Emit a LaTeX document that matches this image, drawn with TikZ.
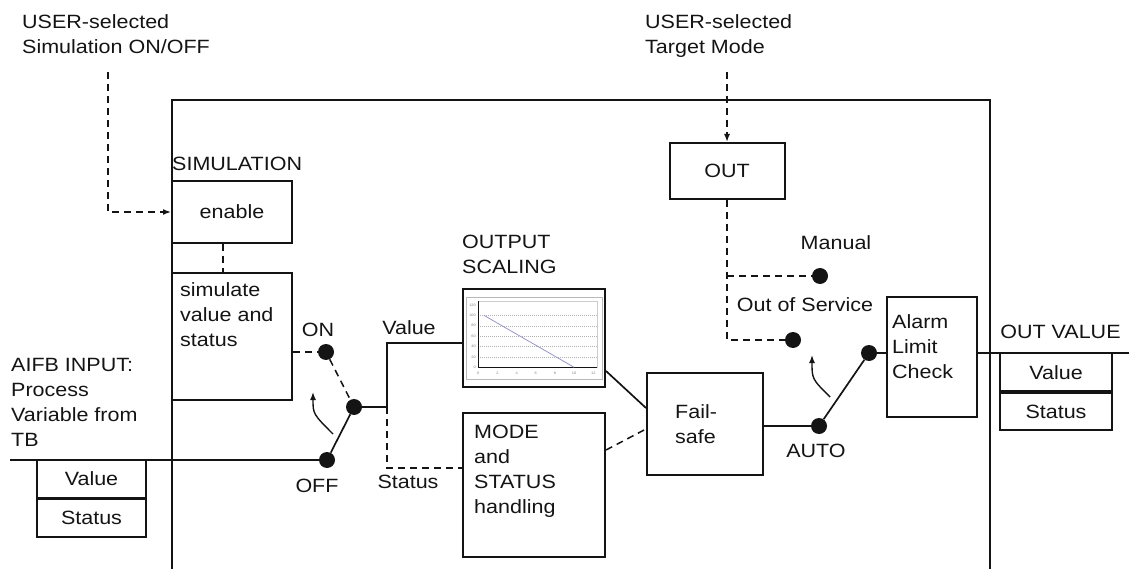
\documentclass[tikz,border=0pt]{standalone}
\usepackage{fontspec}
\setmainfont{Liberation Sans}[FakeStretch=1.12]
\usetikzlibrary{arrows.meta,positioning,calc}
\definecolor{ink}{RGB}{20,20,20}
\begin{document}
\begin{tikzpicture}[x=1pt, y=-1pt,
        >=Latex, font=\fontsize{19.2}{25}\selectfont, color=ink,
        blk/.style={draw, line width=2pt, inner sep=0pt},
        cell/.style={draw, line width=1.8pt, minimum width=109pt, minimum height=37.5pt, inner sep=0pt},
        lbl/.style={inner sep=0pt, align=left},
        ticklbl/.style={inner sep=0pt, font=\fontsize{3.5}{4}\selectfont, text=gray},
        contact/.style={circle, fill, inner sep=0pt, minimum size=16pt},
        wire/.style={line width=1.7pt},
        ctrl/.style={line width=1.5pt, dash pattern=on 7pt off 5pt},
        arrowed/.style={-{Latex[length=8pt,width=6pt]}},
        frame/.style={line width=2.2pt}]
    \useasboundingbox (0,0) rectangle (1129,569);
    \draw[frame] (172,569) |- (990,100) -- (990,569);

    \node[lbl, anchor=north west] (simusr) at (22,14.5) {USER-selected\\Simulation ON/OFF};
    \node[lbl, anchor=north west] (tgtusr) at (645,14.5) {USER-selected\\Target Mode};
    \coordinate (simsrc) at (108,72);
    \coordinate (tgtsrc) at (727,72);

    \node[blk, minimum width=120pt, minimum height=62pt] (en) at (232,212) {enable};
    \node[lbl, anchor=base west] (simttl) at ($(en.north west)+(1,-9.3)$) {SIMULATION};
    \node[blk, minimum width=120pt, minimum height=127pt] (simbox) at (232,336.5) {};
    \node[lbl, anchor=north west] (simtxt) at ($(simbox.north west)+(9,10)$) {simulate\\value and\\status};

    \node[lbl, anchor=north west] (aifb) at (11,358) {AIFB INPUT:\\Process\\Variable from\\TB};
    \coordinate (inl) at (10,460);
    \node[cell] (inval) at (91.5,478.75) {Value};
    \node[cell, below=0pt of inval] (insts) {Status};

    \node[contact] (onc) at (326,352) {};
    \node[contact] (piv) at (354,407) {};
    \node[contact] (offc) at (327,460) {};
    \coordinate (jn) at (387,407);
    \node[lbl, anchor=base] (onlbl) at (318,336) {ON};
    \node[lbl, anchor=base] (offlbl) at (317,492.3) {OFF};
    \node[lbl, anchor=base] (vallbl) at (409,334) {Value};
    \node[lbl, anchor=base] (stslbl) at (408,488) {Status};

    \node[blk, minimum width=142pt, minimum height=98pt] (scale) at (534,338) {};
    \node[lbl, anchor=north west] (scalettl) at ($(scale.north west)+(0,-53)$) {OUTPUT\\SCALING};
    \node[blk, minimum width=142pt, minimum height=144pt] (mode) at (534,485) {};
    \node[lbl, anchor=north west] (modetxt) at ($(mode.north west)+(12,13)$) {MODE\\and\\STATUS\\handling};
    \node[blk, minimum width=116pt, minimum height=102pt] (fs) at (705,424) {};
    \node[lbl, anchor=north west] (fstxt) at ($(fs.north west)+(29,32)$) {Fail-\\safe};

    \draw[gray!55, line width=0.8pt] ($(scale.north west)+(4,9)$) rectangle ($(scale.south east)+(-4,-9)$);
    \draw[gray!40, line width=0.5pt] (478.3,301) rectangle (597,367.3);
    \foreach \v in {20,40,...,100}
        \draw[gray!60, line width=0.4pt, dash pattern=on 1pt off 1pt] (478.3,{367.3-\v*0.519}) -- (597,{367.3-\v*0.519});
    \draw[line width=0.5pt] (478.3,301) -- (478.3,367.3) -- (597,367.3);
    \foreach \u in {0,2,...,12}
        \node[ticklbl] (xt\u) at ({478.3+\u*9.583},373.5) {\u};
    \foreach \v in {0,20,...,120}
        \node[ticklbl, anchor=east] (yt\v) at (476,{367.3-\v*0.519}) {\v};
    \draw[color={rgb,255:red,150;green,150;blue,200}, line width=0.8pt] (484.05,315.4) -- (574.1,367.3);

    \node[blk, minimum width=115pt, minimum height=56pt] (out) at (727,171) {OUT};
    \node[contact] (manc) at (820,276) {};
    \node[contact] (oosc) at (793,340) {};
    \node[contact] (autoc) at (819,426) {};
    \node[contact] (swc) at (869,353) {};
    \node[lbl, anchor=base] (manlbl) at (836,250) {Manual};
    \node[lbl, anchor=base] (ooslbl) at (805,311.7) {Out of Service};
    \node[lbl, anchor=base] (autolbl) at (816,457.3) {AUTO};
    \node[blk, minimum width=90pt, minimum height=120pt] (alarm) at (932,357) {};
    \node[lbl, anchor=north west] (alarmtxt) at ($(alarm.north west)+(6,18)$) {Alarm\\Limit\\Check};

    \coordinate (outend) at (1129,353);
    \node[cell, minimum width=112pt] (outval) at (1056,372.25) {Value};
    \node[cell, minimum width=112pt, below=0pt of outval] (outsts) {Status};
    \node[lbl, anchor=base west] (outttl) at ($(outval.north west)+(1,-14)$) {OUT VALUE};

    \draw[ctrl, arrowed] (simsrc) |- (en.west);
    \draw[ctrl] ([xshift=-9pt]en.south) -- ([xshift=-9pt]simbox.north);
    \draw[ctrl] (simbox.east |- onc) -- (onc);
    \draw[ctrl] (onc) -- (piv);
    \draw[wire] (inl) -- (offc);
    \draw[wire] (offc) -- (piv);
    \draw[wire] (piv) -- (jn) |- ([yshift=-5pt]scale.west);
    \draw[ctrl] (jn) |- ([yshift=17pt]mode.west);
    \draw[wire, line width=1.4pt, arrowed] (333,434) .. controls (313,414) .. (313,392);

    \draw[wire] ([yshift=17pt]scale.south east) -- ([yshift=16pt]fs.west);
    \draw[ctrl] ([yshift=35pt]mode.east) -- ([yshift=-5pt]fs.west);
    \draw[wire] (fs.east |- autoc) -- (autoc);
    \draw[wire] (autoc) -- (swc);
    \draw[wire] (swc) -- (alarm.west |- swc);
    \draw[wire, line width=1.4pt, arrowed] (830,397) .. controls (812,379) .. (812,355);

    \draw[ctrl, arrowed] (tgtsrc) -- (tgtsrc |- out.north);
    \draw[ctrl] (out.south) |- (oosc);
    \draw[ctrl] (out.south |- manc) -- (manc);
    \draw[wire] (alarm.east |- outend) -- (outend);
\end{tikzpicture}
\end{document}
